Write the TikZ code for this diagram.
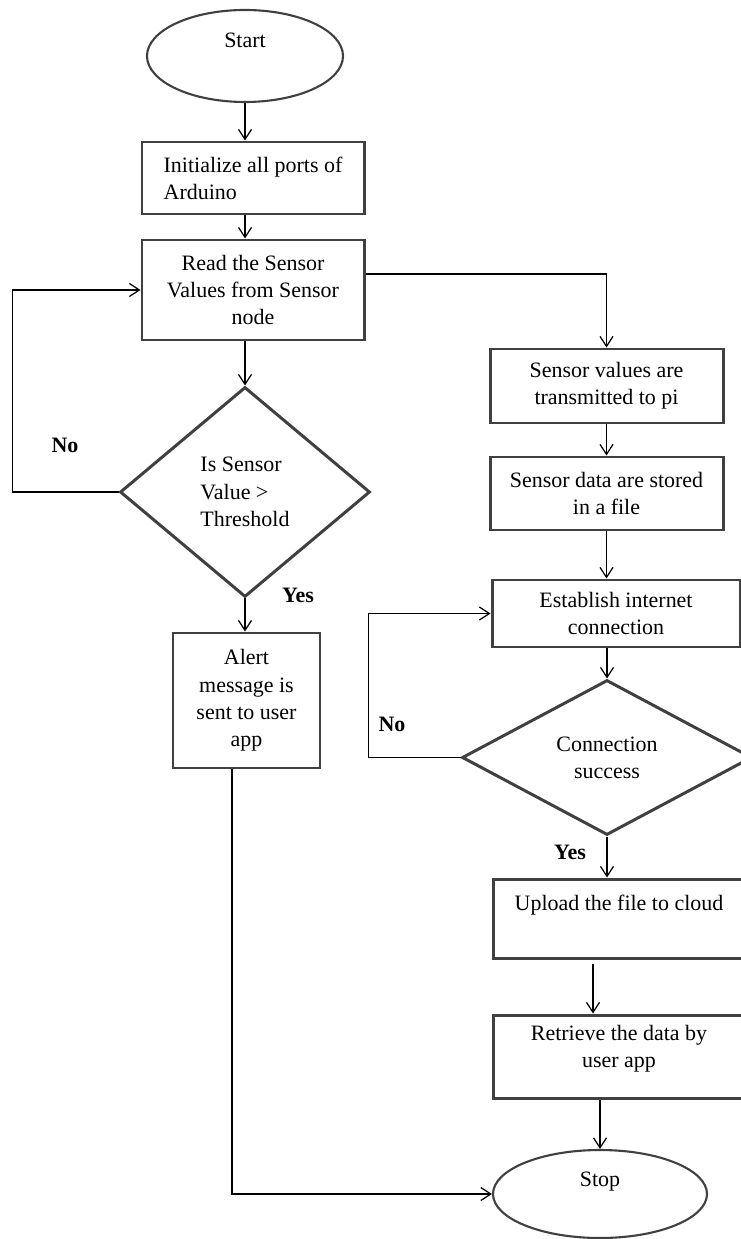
\documentclass[tikz,border=0pt]{standalone}
\usepackage{fontspec}
\setmainfont{Liberation Serif}
\usepackage{tikz}
\usetikzlibrary{shapes.geometric}
\usetikzlibrary{arrows.meta}

\begin{document}
\begin{tikzpicture}[
    proc/.style={
        draw=black!75, % dark grey border
        line width=1.7pt, % heavy outline like the scan
        align=center, % centred lines
        inner sep=0pt,
        font=\fontsize{12.5}{15.5}\selectfont
    },
    term/.style={
        ellipse, draw=black!75, line width=1.2pt,
        align=center, inner sep=0pt,
        font=\fontsize{12.5}{15.5}\selectfont
    },
    decide/.style={
        diamond, draw=black!75, line width=1.7pt,
        align=left, inner sep=0pt, aspect=1.2,
        font=\fontsize{12.5}{15.5}\selectfont
    },
    flow/.style={draw, line width=0.7pt, -{Straight Barb[length=2mm,width=2.6mm]}}, % thin arrows
    tag/.style={font=\fontsize{12.5}{15}\selectfont\bfseries} % Yes / No
]
\useasboundingbox (0,0) rectangle (14.82,-24.78);

% left column
\node[term, minimum width=3.92cm, minimum height=1.84cm] (start) at (4.9,-1.12) {Start\\[3pt]~};
\node[proc, minimum width=4.44cm, minimum height=1.44cm, align=left] (init) at (5.06,-3.56) {Initialize all ports of\\Arduino};
\node[proc, minimum width=4.44cm, minimum height=2.0cm] (read) at (5.06,-5.8) {Read the Sensor\\Values from Sensor\\node};
\node[decide, minimum width=5.0cm, minimum height=4.2cm] (check) at (4.9,-9.84) {Is Sensor\\Value >\\Threshold};
\node[proc, minimum width=2.94cm, minimum height=2.7cm] (alert) at (4.93,-14.01) {Alert\\message is\\sent to user\\app};

% right column
\node[proc, minimum width=4.66cm, minimum height=1.48cm] (send) at (12.13,-7.72) {Sensor values are\\transmitted to pi};
\node[proc, minimum width=4.66cm, minimum height=1.46cm] (store) at (12.13,-9.87) {Sensor data are stored\\in a file};
\node[proc, minimum width=4.96cm, minimum height=1.34cm] (connect) at (12.32,-12.27) {Establish internet\\connection};
\node[decide, minimum width=5.8cm, minimum height=3.1cm, align=center] (success) at (12.14,-15.15) {Connection\\success};
\node[proc, minimum width=5.04cm, minimum height=1.58cm] (upload) at (12.38,-18.37) {Upload the file to cloud\\[2pt]~};
\node[proc, minimum width=5.04cm, minimum height=1.66cm] (fetch) at (12.38,-21.13) {Retrieve the data by\\user app\\[-4pt]~};
\node[term, minimum width=4.28cm, minimum height=1.76cm] (stop) at (12.0,-23.88) {Stop\\[1pt]~};

% labels
\node[tag] (noA) at (1.3,-8.9) {No};
\node[tag] (yesA) at (5.96,-11.9) {Yes};
\node[tag] (noB) at (7.84,-14.48) {No};
\node[tag] (yesB) at (11.4,-17.04) {Yes};

% connectors
\draw[flow] (start.south) -- (start.south |- init.north);
\draw[flow] (init.south -| start.south) -- (start.south |- read.north);
\draw[flow] (check.north |- read.south) -- (check.north);
\draw[flow] (check.west) -- ++(-2.12,0) |- (read.west);
\draw[flow] (check.south) -- (check.south |- alert.north);
\draw[flow] ([xshift=-0.29cm]alert.south) |- (stop.west);
\draw[flow] ([yshift=0.32cm]read.east) -| (send.north);
\draw[flow] (send.south) -- (store.north);
\draw[flow] (store.south) -- (store.south |- connect.north);
\draw[flow] (success.north |- connect.south) -- (success.north);
\draw[flow] (success.west) -- ++(-1.84,0) |- (connect.west);
\draw[flow] (success.south) -- (success.south |- upload.north);
\draw[flow] ([xshift=-0.52cm,yshift=-0.08cm]upload.south) -- ([xshift=-0.52cm]fetch.north);
\draw[flow] (stop.north |- fetch.south) -- (stop.north);
\end{tikzpicture}
\end{document}
